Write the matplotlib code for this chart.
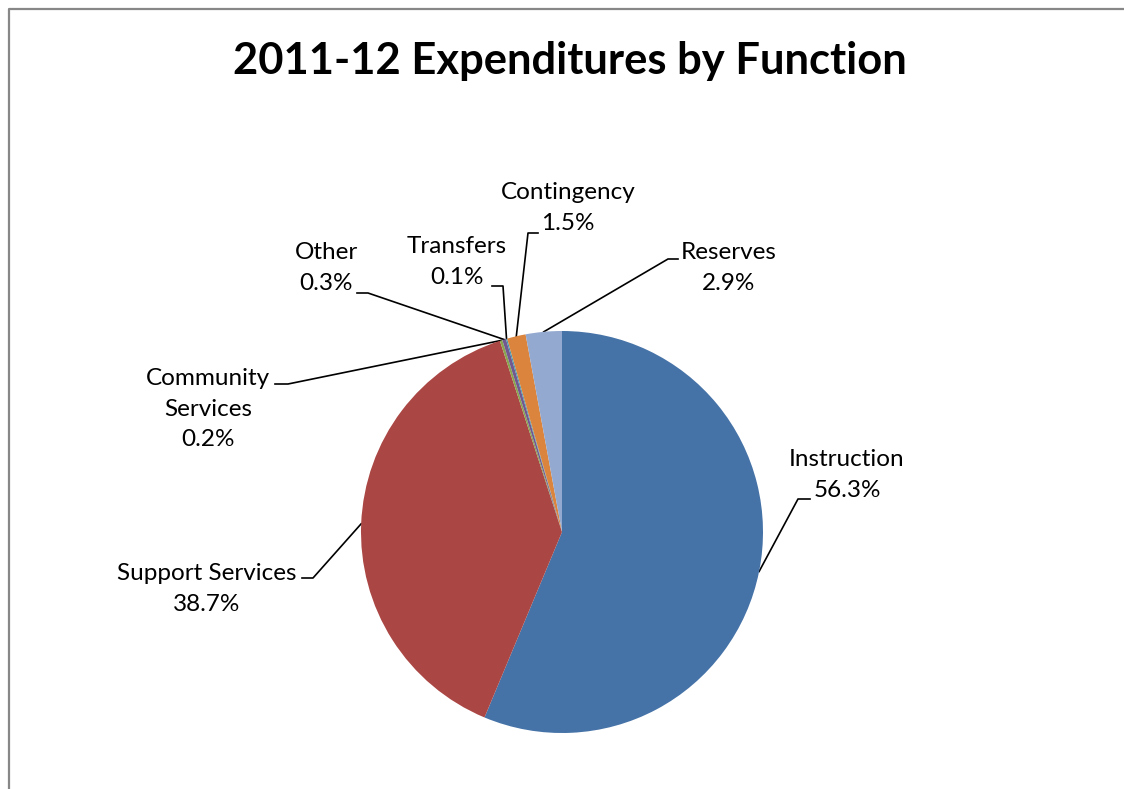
import numpy as np
import matplotlib
matplotlib.use("Agg")
import matplotlib.pyplot as plt
from matplotlib.lines import Line2D

plt.rcParams["font.family"] = ["Lato", "DejaVu Sans"]

W, H = 1124, 789

# expenditure shares, clockwise from 12 o'clock
categories = ["Instruction", "Support Services", "Community\nServices", "Other",
              "Transfers", "Contingency", "Reserves"]
shares = [56.3, 38.7, 0.2, 0.3, 0.1, 1.5, 2.9]
colors = ["#4572A7", "#AA4643", "#89A54E", "#71588F", "#4198AF", "#DB843D", "#93A9CF"]

# label layout in pixels (x right, y down): text centre, elbow, end of the leader
label_xy = [(847, 475), (207, 589), (208, 409), (326, 268), (457, 262), (568, 208), (729, 268)]
elbow_xy = [(798, 499), (313, 578), (288, 384), (368, 293), (503, 286), (528, 233), (668, 259)]
end_xy = [(810, 499), (302, 578), (275, 384), (357, 293), (492, 286), (538, 233), (678, 259)]

CENTER = (562, 532)
RADIUS = 201

fig = plt.figure(figsize=(W / 100, H / 100), dpi=100)
fig.patch.set_facecolor("white")
ax = fig.add_axes([0, 0, 1, 1])
ax.set_xlim(0, W)
ax.set_ylim(H, 0)
ax.axis("off")


def flip(p):
    return (p[0], H - p[1])


# pie drawn in a y-up frame so clockwise stays clockwise
pax = fig.add_axes([0, 0, 1, 1])
wedges, _ = pax.pie(shares, colors=colors, startangle=90, counterclock=False,
                    center=flip(CENTER), radius=RADIUS, frame=True,
                    wedgeprops=dict(linewidth=0, antialiased=True))
pax.set_xlim(0, W)
pax.set_ylim(0, H)
pax.axis("off")

for w, name, val, lab, elb, end in zip(wedges, categories, shares, label_xy, elbow_xy, end_xy):
    mid = np.deg2rad((w.theta1 + w.theta2) / 2)
    edge = (CENTER[0] + RADIUS * np.cos(mid), CENTER[1] - RADIUS * np.sin(mid))
    ax.add_line(Line2D([edge[0], elb[0], end[0]], [edge[1], elb[1], end[1]],
                       color="black", linewidth=1.2, zorder=5))
    ax.text(lab[0], lab[1], f"{name}\n{val:.1f}%", ha="center", va="center",
            fontsize=17.5, linespacing=1.58, color="black")

ax.text(W / 2 + 8, 61, "2011-12 Expenditures by Function", ha="center", va="center",
        fontsize=31.3, fontweight="bold", color="black")

# chart-area border, running off the right and bottom edges
ax.add_line(Line2D([9, 9, W + 5], [H + 5, 9, 9], color="#878787", linewidth=1.6, zorder=6))

fig.savefig("out.png", dpi=100, facecolor="white")
